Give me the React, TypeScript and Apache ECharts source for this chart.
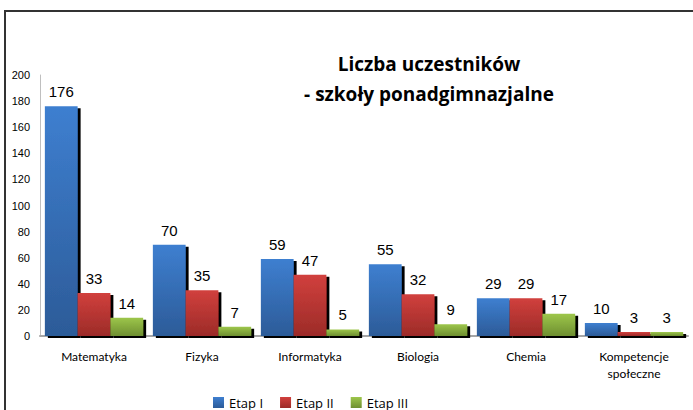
import React, { useEffect, useRef } from "react";
import * as echarts from "echarts";

const categories = ["Matematyka", "Fizyka", "Informatyka", "Biologia", "Chemia", "Kompetencje\nspołeczne"];
const etap1 = [176, 70, 59, 55, 29, 10];
const etap2 = [33, 35, 47, 32, 29, 3];
const etap3 = [14, 7, 5, 9, 17, 3];
const seriesNames = ["Etap I", "Etap II", "Etap III"];
const yTicks = { min: 0, max: 200, interval: 20 };

const grad = (top: string, bottom: string) =>
  new echarts.graphic.LinearGradient(0, 0, 0, 1, [
    { offset: 0, color: top },
    { offset: 1, color: bottom },
  ]);

const colors = [
  ["#3e7fd0", "#2c5b98"],
  ["#d1403d", "#9c2b28"],
  ["#9dc64b", "#6e8f30"],
];

export default function App() {
  const ref = useRef<HTMLDivElement>(null);
  useEffect(() => {
    const chart = echarts.init(ref.current!, null, { renderer: "svg" });
    const data = [etap1, etap2, etap3];
    chart.setOption({
      animation: false,
      backgroundColor: "#ffffff",
      title: {
        text: "Liczba uczestników\n- szkoły ponadgimnazjalne",
        left: 424,
        top: 44,
        textAlign: "center",
        textStyle: {
          fontFamily: "Open Sans",
          fontWeight: "bold",
          fontSize: 19,
          lineHeight: 30,
          color: "#000",
        },
      },
      legend: {
        bottom: -4,
        left: 208,
        itemWidth: 11,
        itemHeight: 11,
        itemGap: 17,
        icon: "rect",
        textStyle: { fontFamily: "Open Sans", fontSize: 13, color: "#000" },
        data: seriesNames.map((n, i) => ({ name: n, itemStyle: { color: grad(colors[i][0], colors[i][1]) } })),
      },
      grid: { left: 40, right: 5, top: 75, bottom: 74, containLabel: false },
      xAxis: {
        type: "category",
        data: categories,
        axisLine: { lineStyle: { color: "#a6a6a6", width: 2 } },
        axisTick: { show: false },
        axisLabel: {
          fontFamily: "Lato",
          fontSize: 12,
          color: "#000",
          margin: 12,
          lineHeight: 17,
          interval: 0,
        },
      },
      yAxis: {
        type: "value",
        min: yTicks.min,
        max: yTicks.max,
        interval: yTicks.interval,
        axisLine: { show: true, lineStyle: { color: "#bfbfbf", width: 1 } },
        axisTick: { show: false },
        splitLine: { show: false },
        axisLabel: { fontFamily: "Arial, Liberation Sans", fontSize: 11, color: "#000", margin: 10 },
      },
      series: data.map((d, i) => ({
        name: seriesNames[i],
        type: "bar",
        data: d,
        barGap: "0%",
        barCategoryGap: "9%",
        itemStyle: {
          color: grad(colors[i][0], colors[i][1]),
          shadowColor: "#000",
          shadowOffsetX: 3,
          shadowOffsetY: 2,
          shadowBlur: 0,
        },
        label: {
          show: true,
          position: "top",
          distance: 7,
          fontFamily: "Arial, Liberation Sans",
          fontSize: 15,
          fontWeight: "normal",
          color: "#000",
        },
      })),
      graphic: [
        {
          type: "polyline",
          shape: { points: [[5, 420], [5, 11], [700, 11]] },
          style: { stroke: "#333", lineWidth: 2, fill: null },
          z: 100,
        },
      ],
    });
    return () => chart.dispose();
  }, []);
  return <div ref={ref} style={{ width: 693, height: 410, position: "fixed", left: 0, top: 0 }} />;
}
